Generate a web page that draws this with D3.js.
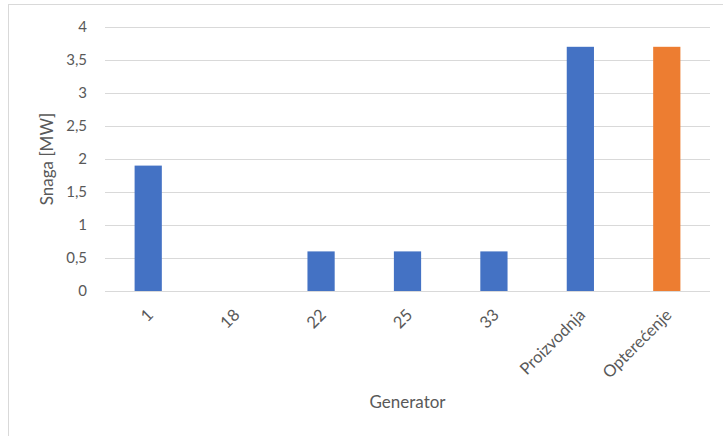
<!DOCTYPE html>
<html>
<head>
<meta charset="utf-8">
<script src="https://cdn.jsdelivr.net/npm/d3@7"></script>
<style>
  body { margin: 0; background: #fff; }
  text { font-family: Lato, "Open Sans", sans-serif; fill: #595959; }
</style>
</head>
<body>
<div id="chart"></div>
<script>
const categories = ['1', '18', '22', '25', '33', 'Proizvodnja', 'Opterećenje'];
const values = [1.9, 0, 0.6, 0.6, 0.6, 3.7, 3.7];
const colors = ['#4472c4', '#4472c4', '#4472c4', '#4472c4', '#4472c4', '#4472c4', '#ed7d31'];
const yTicks = [0, 0.5, 1, 1.5, 2, 2.5, 3, 3.5, 4];

const W = 723, H = 436;
const margin = { top: 27, right: 13, bottom: 145, left: 105 };
const width = W - margin.left - margin.right;
const height = H - margin.top - margin.bottom;

const root = d3.select("#chart")
  .append("svg")
  .attr("width", W)
  .attr("height", H);

// outer chart border (right/bottom fall outside the picture)
root.append("rect")
  .attr("x", 8.5)
  .attr("y", 4.5)
  .attr("width", W + 10)
  .attr("height", H + 10)
  .style("fill", "none")
  .style("stroke", "#d9d9d9")
  .style("stroke-width", 1);

const svg = root.append("g")
  .attr("transform", `translate(${margin.left},${margin.top})`);

const x = d3.scaleBand()
  .domain(categories)
  .range([0, width])
  .paddingInner(0.685)
  .paddingOuter(0.3425);

const y = d3.scaleLinear()
  .domain([0, 4])
  .range([height, 0]);

const fmt = d => String(d).replace('.', ',');

// gridlines
svg.append("g")
  .selectAll("line")
  .data(yTicks)
  .enter().append("line")
  .attr("x1", 0)
  .attr("x2", width)
  .attr("y1", d => Math.round(y(d)) + 0.5)
  .attr("y2", d => Math.round(y(d)) + 0.5)
  .style("stroke", "#d9d9d9")
  .style("stroke-width", 1);

// y axis
const yAxis = d3.axisLeft(y).tickValues(yTicks).tickFormat(fmt).tickSize(0).tickPadding(18);
svg.append("g")
  .attr("class", "y-axis")
  .call(yAxis)
  .call(g => g.select(".domain").remove())
  .selectAll("text")
  .style("font-size", "15px")
  .style("fill", "#595959");

// bars
svg.selectAll(".bar")
  .data(categories.map((c, i) => ({ c, v: values[i], col: colors[i] })))
  .enter().append("rect")
  .attr("class", "bar")
  .attr("x", d => x(d.c))
  .attr("width", x.bandwidth())
  .attr("y", d => y(d.v))
  .attr("height", d => height - y(d.v))
  .style("fill", d => d.col);

// x axis
const xAxis = d3.axisBottom(x).tickSize(0).tickPadding(0);
svg.append("g")
  .attr("class", "x-axis")
  .attr("transform", `translate(0,${height})`)
  .call(xAxis)
  .call(g => g.select(".domain").remove())
  .selectAll("text")
  .style("font-size", "16.5px")
  .style("fill", "#595959")
  .attr("text-anchor", "end")
  .attr("dy", null)
  .attr("y", 0)
  .attr("transform", "translate(6,25) rotate(-45)");

// axis titles
root.append("text")
  .attr("x", margin.left + width / 2)
  .attr("y", 408)
  .attr("text-anchor", "middle")
  .style("font-size", "17px")
  .text("Generator");

root.append("text")
  .attr("transform", `translate(53,${margin.top + height / 2}) rotate(-90)`)
  .attr("text-anchor", "middle")
  .style("font-size", "17px")
  .text("Snaga [MW]");
</script>
</body>
</html>
